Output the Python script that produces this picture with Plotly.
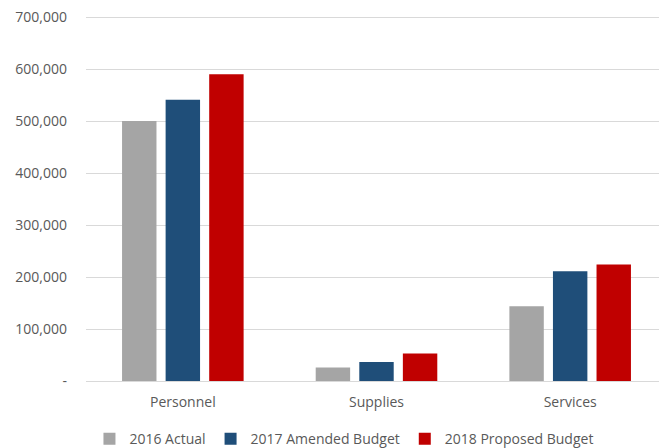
import plotly.graph_objects as go

categories = ["Personnel", "Supplies", "Services"]
actual_2016 = [500000, 26000, 144000]
amended_2017 = [541000, 36500, 211000]
proposed_2018 = [590000, 53000, 224000]
tick_vals = [0, 100000, 200000, 300000, 400000, 500000, 600000, 700000]
tick_text = ["-", "100,000", "200,000", "300,000", "400,000", "500,000", "600,000", "700,000"]

series = [
    ("2016 Actual", actual_2016, "#A5A5A5"),
    ("2017 Amended Budget", amended_2017, "#1F4E79"),
    ("2018 Proposed Budget", proposed_2018, "#C00000"),
]

fig = go.Figure()
for name, vals, color in series:
    fig.add_trace(go.Bar(x=categories, y=vals, name=name, marker_color=color,
                         marker_line_width=0))

font = dict(family="Open Sans, sans-serif", size=14, color="#595959")
# page body has an 8px default margin; compensate so the plot lands where it should
fig.update_layout(
    width=659, height=440,
    margin=dict(l=78, r=0, t=8, b=67, autoexpand=False),
    paper_bgcolor="white", plot_bgcolor="white",
    barmode="group", bargap=0.325, bargroupgap=0.21,
    font=font,
    showlegend=True,
    legend=dict(orientation="h", x=0.444, xanchor="center", y=-0.159, yanchor="middle",
                font=font, itemwidth=30, tracegroupgap=0),
    xaxis=dict(showgrid=False, showline=True, linecolor="#D9D9D9", linewidth=1,
               ticks="", tickfont=font, automargin=False, ticklabelstandoff=8),
    yaxis=dict(range=[0, 702000], tickvals=tick_vals, ticktext=tick_text,
               showgrid=True, gridcolor="#D9D9D9", gridwidth=1, zeroline=False,
               ticks="", ticklabelstandoff=18, tickfont=font, automargin=False,
               ticklabeloverflow="allow"),
)
fig.write_html("out.html")
